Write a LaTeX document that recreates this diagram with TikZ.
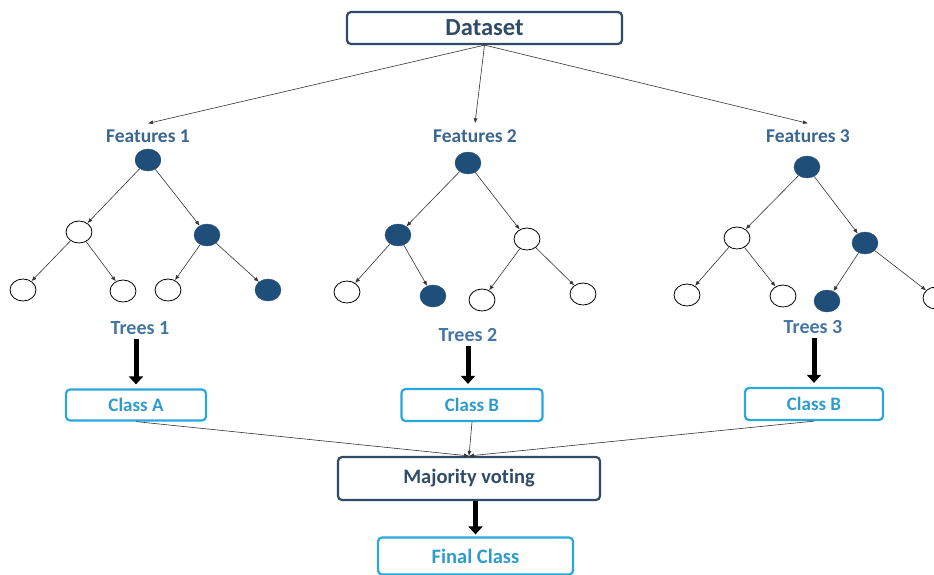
\documentclass[tikz,border=0pt]{standalone}
\usepackage{fontspec}
\setmainfont{Carlito}[Ligatures=NoCommon]
\usetikzlibrary{shapes.geometric,arrows.meta}
\definecolor{navy}{HTML}{1F4E79}
\definecolor{slate}{HTML}{2F4B68}
\definecolor{featblue}{HTML}{3A6690}
\definecolor{treeblue}{HTML}{4575A3}
\definecolor{cyanline}{HTML}{29A8DB}
\definecolor{cyantext}{HTML}{2E9CCB}

\begin{document}
\begin{tikzpicture}[x=1pt,y=-1pt,
        darkbox/.style={draw=slate,line width=2.2pt,rounded corners=4pt,text=slate,inner sep=0pt},
        classbox/.style={draw=cyanline,line width=2.2pt,rounded corners=4pt,text=cyantext,inner sep=0pt,
                minimum width=140pt,minimum height=31pt,font=\bfseries\fontsize{19}{19}\selectfont},
        featlabel/.style={text=featblue,inner xsep=2pt,inner ysep=6pt,font=\bfseries\fontsize{19.5}{19.5}\selectfont},
        treelabel/.style={text=treeblue,inner xsep=2pt,inner ysep=4pt,font=\bfseries\fontsize{20}{20}\selectfont},
        fullnode/.style={ellipse,draw=navy,fill=navy,minimum width=26pt,minimum height=22pt,inner sep=0pt},
        opennode/.style={ellipse,draw=black,line width=0.8pt,fill=white,minimum width=26pt,minimum height=22pt,inner sep=0pt},
        edge/.style={draw=black!80,line width=0.6pt,-{Latex[length=5pt,width=4pt]}},
        bigarrow/.style={line width=5pt,-{Triangle[length=8pt,width=14pt]},shorten >=4pt}]
        \useasboundingbox (0,0) rectangle (934,574);

        %dataset and the three feature sets
        \node[darkbox,minimum width=275pt,minimum height=32pt,font=\bfseries\fontsize{24.5}{24.5}\selectfont] (data) at (484.5,28) {Dataset};
        \node[featlabel] (f1) at (148,136) {Features 1};
        \node[featlabel] (f2) at (475,136) {Features 2};
        \node[featlabel] (f3) at (808,136) {Features 3};
        \foreach \t in {1,2,3}
        \draw[edge] (data.south) -- (f\t.north);

        %tree 1
        \node[fullnode] (r1) at (148,160) {};
        \node[opennode] (a1) at (79,232) {};
        \node[fullnode] (b1) at (207,235) {};
        \node[opennode] (aa1) at (23,290) {};
        \node[opennode] (ab1) at (123,291) {};
        \node[opennode] (ba1) at (168,290) {};
        \node[fullnode] (bb1) at (268,290) {};

        %tree 2
        \node[fullnode] (r2) at (468,163) {};
        \node[fullnode] (a2) at (398,235) {};
        \node[opennode] (b2) at (527,239) {};
        \node[opennode] (aa2) at (347,292) {};
        \node[fullnode] (ab2) at (433,296) {};
        \node[opennode] (ba2) at (482,300) {};
        \node[opennode] (bb2) at (583,294) {};

        %tree 3
        \node[fullnode] (r3) at (807,167) {};
        \node[opennode] (a3) at (737,238) {};
        \node[fullnode] (b3) at (865,243) {};
        \node[opennode] (aa3) at (687,295) {};
        \node[opennode] (ab3) at (783,296) {};
        \node[fullnode] (ba3) at (827,301) {};
        \node[opennode] (bb3) at (936,298) {};

        \foreach \t in {1,2,3} {
        \draw[edge] (r\t) -- (a\t);
        \draw[edge] (r\t) -- (b\t);
        \draw[edge] (a\t) -- (aa\t);
        \draw[edge] (a\t) -- (ab\t);
        \draw[edge] (b\t) -- (ba\t);
        \draw[edge] (b\t) -- (bb\t);
        }

        %trees and their classes
        \node[treelabel] (t1) at (140,328) {Trees 1};
        \node[treelabel] (t2) at (468,335) {Trees 2};
        \node[treelabel] (t3) at (813,327) {Trees 3};
        \node[classbox] (c1) at (136,405) {Class A};
        \node[classbox,minimum width=141pt,minimum height=32pt] (c2) at (472,405) {Class B};
        \node[classbox,minimum width=138pt,minimum height=32pt] (c3) at (814,404) {Class B};
        \draw[bigarrow] (c1.north |- t1.south) -- (c1.north);
        \draw[bigarrow] (t2.south) -- (t2.south |- c2.north);
        \draw[bigarrow] (c3.north |- t3.south) -- (c3.north);

        %voting
        \node[darkbox,minimum width=262pt,minimum height=43pt,font=\bfseries\fontsize{20.5}{20.5}\selectfont] (vote) at (469,478.5) {Majority voting};
        \foreach \t in {1,2,3}
        \draw[edge] (c\t.south) -- (vote.north);
        \node[classbox,minimum width=195pt,minimum height=37pt,font=\bfseries\fontsize{20.5}{20.5}\selectfont] (final) at (475.5,556) {Final Class};
        \draw[bigarrow,shorten >=2pt] (vote.south -| final.north) -- (final.north);
\end{tikzpicture}
\end{document}
